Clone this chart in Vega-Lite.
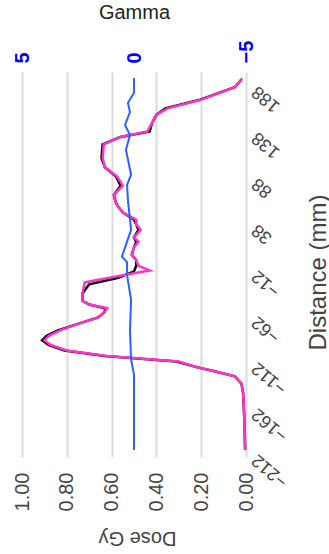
{
  "$schema": "https://vega.github.io/schema/vega-lite/v6.json",
  "width": 224,
  "height": 385,
  "autosize": "none",
  "padding": {"left": 22, "top": 72, "right": 83, "bottom": 97},
  "config": {"view": {"stroke": null}, "font": "Liberation Sans"},
  "datasets": {
    "dose": [
      {"series": "Measured", "d": -212, "dose": 0.004},
      {"series": "Measured", "d": -190, "dose": 0.006},
      {"series": "Measured", "d": -170, "dose": 0.009},
      {"series": "Measured", "d": -150, "dose": 0.013},
      {"series": "Measured", "d": -140, "dose": 0.02},
      {"series": "Measured", "d": -132, "dose": 0.05},
      {"series": "Measured", "d": -126, "dose": 0.15},
      {"series": "Measured", "d": -122, "dose": 0.22},
      {"series": "Measured", "d": -116, "dose": 0.31},
      {"series": "Measured", "d": -110, "dose": 0.63},
      {"series": "Measured", "d": -104, "dose": 0.81},
      {"series": "Measured", "d": -98, "dose": 0.88},
      {"series": "Measured", "d": -93, "dose": 0.91},
      {"series": "Measured", "d": -88, "dose": 0.89},
      {"series": "Measured", "d": -82, "dose": 0.84},
      {"series": "Measured", "d": -75, "dose": 0.75},
      {"series": "Measured", "d": -68, "dose": 0.66},
      {"series": "Measured", "d": -62, "dose": 0.63},
      {"series": "Measured", "d": -58, "dose": 0.63},
      {"series": "Measured", "d": -54, "dose": 0.70},
      {"series": "Measured", "d": -50, "dose": 0.73},
      {"series": "Measured", "d": -42, "dose": 0.73},
      {"series": "Measured", "d": -32, "dose": 0.70},
      {"series": "Measured", "d": -25, "dose": 0.57},
      {"series": "Measured", "d": -18, "dose": 0.50},
      {"series": "Measured", "d": -12, "dose": 0.49},
      {"series": "Measured", "d": -6, "dose": 0.49},
      {"series": "Measured", "d": 0, "dose": 0.51},
      {"series": "Measured", "d": 8, "dose": 0.50},
      {"series": "Measured", "d": 14, "dose": 0.49},
      {"series": "Measured", "d": 19, "dose": 0.50},
      {"series": "Measured", "d": 27, "dose": 0.48},
      {"series": "Measured", "d": 33, "dose": 0.49},
      {"series": "Measured", "d": 38, "dose": 0.50},
      {"series": "Measured", "d": 46, "dose": 0.55},
      {"series": "Measured", "d": 52, "dose": 0.57},
      {"series": "Measured", "d": 56, "dose": 0.58},
      {"series": "Measured", "d": 65, "dose": 0.59},
      {"series": "Measured", "d": 75, "dose": 0.56},
      {"series": "Measured", "d": 85, "dose": 0.58},
      {"series": "Measured", "d": 95, "dose": 0.63},
      {"series": "Measured", "d": 105, "dose": 0.645},
      {"series": "Measured", "d": 120, "dose": 0.64},
      {"series": "Measured", "d": 128, "dose": 0.56},
      {"series": "Measured", "d": 134, "dose": 0.43},
      {"series": "Measured", "d": 143, "dose": 0.42},
      {"series": "Measured", "d": 152, "dose": 0.40},
      {"series": "Measured", "d": 159, "dose": 0.36},
      {"series": "Measured", "d": 168, "dose": 0.21},
      {"series": "Measured", "d": 182, "dose": 0.05},
      {"series": "Measured", "d": 191, "dose": 0.018},
      {"series": "Calculated", "d": -212, "dose": 0.004},
      {"series": "Calculated", "d": -190, "dose": 0.006},
      {"series": "Calculated", "d": -170, "dose": 0.009},
      {"series": "Calculated", "d": -150, "dose": 0.013},
      {"series": "Calculated", "d": -140, "dose": 0.02},
      {"series": "Calculated", "d": -132, "dose": 0.05},
      {"series": "Calculated", "d": -126, "dose": 0.15},
      {"series": "Calculated", "d": -122, "dose": 0.22},
      {"series": "Calculated", "d": -116, "dose": 0.30},
      {"series": "Calculated", "d": -110, "dose": 0.62},
      {"series": "Calculated", "d": -104, "dose": 0.80},
      {"series": "Calculated", "d": -98, "dose": 0.87},
      {"series": "Calculated", "d": -93, "dose": 0.90},
      {"series": "Calculated", "d": -88, "dose": 0.88},
      {"series": "Calculated", "d": -82, "dose": 0.83},
      {"series": "Calculated", "d": -75, "dose": 0.75},
      {"series": "Calculated", "d": -68, "dose": 0.66},
      {"series": "Calculated", "d": -62, "dose": 0.63},
      {"series": "Calculated", "d": -58, "dose": 0.62},
      {"series": "Calculated", "d": -54, "dose": 0.70},
      {"series": "Calculated", "d": -50, "dose": 0.73},
      {"series": "Calculated", "d": -42, "dose": 0.73},
      {"series": "Calculated", "d": -30, "dose": 0.72},
      {"series": "Calculated", "d": -25, "dose": 0.61},
      {"series": "Calculated", "d": -20, "dose": 0.50},
      {"series": "Calculated", "d": -17, "dose": 0.43},
      {"series": "Calculated", "d": -12, "dose": 0.48},
      {"series": "Calculated", "d": -6, "dose": 0.49},
      {"series": "Calculated", "d": 0, "dose": 0.51},
      {"series": "Calculated", "d": 8, "dose": 0.50},
      {"series": "Calculated", "d": 14, "dose": 0.48},
      {"series": "Calculated", "d": 19, "dose": 0.50},
      {"series": "Calculated", "d": 27, "dose": 0.47},
      {"series": "Calculated", "d": 33, "dose": 0.49},
      {"series": "Calculated", "d": 38, "dose": 0.49},
      {"series": "Calculated", "d": 46, "dose": 0.55},
      {"series": "Calculated", "d": 52, "dose": 0.57},
      {"series": "Calculated", "d": 56, "dose": 0.58},
      {"series": "Calculated", "d": 65, "dose": 0.59},
      {"series": "Calculated", "d": 75, "dose": 0.55},
      {"series": "Calculated", "d": 85, "dose": 0.575},
      {"series": "Calculated", "d": 95, "dose": 0.63},
      {"series": "Calculated", "d": 105, "dose": 0.64},
      {"series": "Calculated", "d": 120, "dose": 0.635},
      {"series": "Calculated", "d": 128, "dose": 0.56},
      {"series": "Calculated", "d": 134, "dose": 0.44},
      {"series": "Calculated", "d": 143, "dose": 0.42},
      {"series": "Calculated", "d": 152, "dose": 0.40},
      {"series": "Calculated", "d": 159, "dose": 0.35},
      {"series": "Calculated", "d": 168, "dose": 0.205},
      {"series": "Calculated", "d": 182, "dose": 0.049},
      {"series": "Calculated", "d": 191, "dose": 0.018}
    ],
    "gamma": [
      {"d": -212, "gamma": 0.0},
      {"d": -130, "gamma": 0.0},
      {"d": -114, "gamma": 0.13},
      {"d": -82, "gamma": 0.18},
      {"d": -49, "gamma": 0.13},
      {"d": -22, "gamma": 0.31},
      {"d": -8, "gamma": 0.31},
      {"d": -2, "gamma": 0.54},
      {"d": 27, "gamma": 0.13},
      {"d": 59, "gamma": 0.27},
      {"d": 76, "gamma": 0.31},
      {"d": 87, "gamma": 0.13},
      {"d": 114, "gamma": 0.36},
      {"d": 130, "gamma": 0.18},
      {"d": 141, "gamma": 0.4},
      {"d": 155, "gamma": 0.18},
      {"d": 165, "gamma": 0.27},
      {"d": 176, "gamma": 0.0},
      {"d": 192, "gamma": 0.0}
    ]
  },
  "encoding": {
    "y": {
      "field": "d", "type": "quantitative",
      "scale": {"domain": [-219.6, 198.5], "nice": false, "zero": false},
      "axis": {
        "orient": "right",
        "values": [-212, -162, -112, -62, -12, 38, 88, 138, 188],
        "labelAngle": 220, "labelAlign": "right", "labelBaseline": "middle",
        "labelFontSize": 18, "labelColor": "#444", "labelPadding": 8, "labelOffset": 7,
        "domain": false, "ticks": false, "grid": false,
        "title": "Distance (mm)", "titleAngle": 270, "titleFontSize": 24,
        "titleFontWeight": "normal", "titleColor": "#444",
        "titleX": 72, "titleY": 200, "titleBaseline": "middle", "titleAlign": "center"
      }
    },
    "order": {"field": "d", "type": "quantitative"}
  },
  "layer": [
    {
      "layer": [
        {
          "transform": [{"filter": "datum.series === 'Measured'"}],
          "mark": {"type": "line", "color": "#000000", "strokeWidth": 2.5},
          "encoding": {
            "x": {"field": "dose", "type": "quantitative"}
          }
        },
        {
          "transform": [{"filter": "datum.series === 'Calculated'"}],
          "mark": {"type": "line", "color": "#ff33cc", "strokeWidth": 2.5},
          "encoding": {
            "x": {"field": "dose", "type": "quantitative"}
          }
        }
      ],
      "data": {"name": "dose"},
      "encoding": {
        "x": {
          "field": "dose", "type": "quantitative",
          "scale": {"domain": [0, 1], "reverse": true, "nice": false},
          "axis": {
            "orient": "bottom", "values": [0, 0.2, 0.4, 0.6, 0.8, 1], "format": ".2f",
            "labelAngle": -90, "labelAlign": "right", "labelBaseline": "middle",
            "labelFontSize": 20, "labelColor": "#444", "labelPadding": 15,
            "grid": true, "gridColor": "#dcdcdc", "gridWidth": 2,
            "domain": false, "ticks": false,
            "title": "Dose Gy", "titleAngle": 180, "titleFontSize": 20,
            "titleFontWeight": "normal", "titleColor": "#444",
            "titleX": 115, "titleY": 80, "titleBaseline": "middle", "titleAlign": "center"
          }
        }
      }
    },
    {
      "data": {"name": "gamma"},
      "mark": {"type": "line", "color": "#2962ff", "strokeWidth": 2},
      "encoding": {
        "x": {
          "field": "gamma", "type": "quantitative",
          "scale": {"domain": [-5, 5], "reverse": true, "nice": false},
          "axis": {
            "orient": "top", "values": [-5, 0, 5],
            "labelAngle": -90, "labelAlign": "left", "labelBaseline": "middle",
            "labelFontSize": 20, "labelFontWeight": "bold", "labelColor": "#0000ff", "labelPadding": 9,
            "grid": false, "domain": false, "ticks": false,
            "title": "Gamma", "titleAngle": 0, "titleFontSize": 20,
            "titleFontWeight": "normal", "titleColor": "#222",
            "titleX": 112, "titleY": -60, "titleBaseline": "middle", "titleAlign": "center"
          }
        }
      }
    }
  ],
  "resolve": {"scale": {"x": "independent"}}
}
